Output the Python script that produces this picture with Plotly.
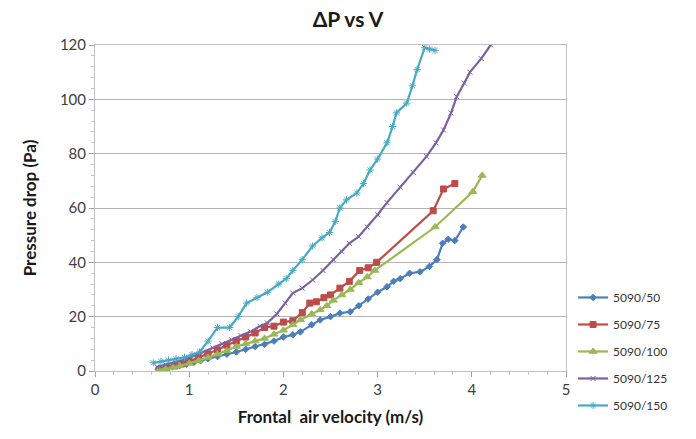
import plotly.graph_objects as go

# Frontal air velocity (m/s) and pressure drop (Pa) for each filter configuration
v_5090_50 = [0.68, 0.75, 0.82, 0.90, 0.97, 1.05, 1.12, 1.20, 1.30, 1.40, 1.50, 1.60, 1.70, 1.80,
             1.90, 2.00, 2.10, 2.18, 2.30, 2.39, 2.50, 2.60, 2.71, 2.80, 2.90, 3.00, 3.10, 3.17,
             3.24, 3.34, 3.45, 3.55, 3.63, 3.69, 3.75, 3.82, 3.91]
p_5090_50 = [0.5, 1.0, 1.5, 2.0, 2.5, 3.2, 3.8, 4.5, 5.3, 6.2, 7.0, 8.0, 9.0, 9.8,
             11.0, 12.5, 13.3, 14.4, 17.0, 18.8, 20.0, 21.3, 21.8, 24.0, 26.5, 29.0, 31.0, 33.0,
             34.0, 36.0, 36.5, 38.5, 41.0, 47.0, 48.5, 48.0, 53.0]

v_5090_75 = [0.68, 0.76, 0.85, 0.93, 1.00, 1.10, 1.20, 1.30, 1.40, 1.50, 1.60, 1.70, 1.80, 1.90,
             2.00, 2.10, 2.20, 2.28, 2.35, 2.43, 2.50, 2.60, 2.70, 2.81, 2.90, 2.99, 3.59, 3.70, 3.82]
p_5090_75 = [0.5, 1.2, 2.0, 2.8, 3.5, 5.0, 6.3, 7.8, 9.5, 11.0, 12.5, 14.0, 16.0, 16.5,
             18.0, 18.5, 21.5, 25.0, 25.5, 27.0, 28.0, 30.5, 33.0, 37.0, 38.0, 40.0, 59.0, 67.0, 69.0]

v_5090_100 = [0.68, 0.75, 0.83, 0.90, 1.00, 1.10, 1.20, 1.30, 1.40, 1.50, 1.60, 1.70, 1.80, 1.90,
              2.00, 2.10, 2.18, 2.30, 2.39, 2.46, 2.53, 2.62, 2.71, 2.80, 2.89, 2.97, 3.61, 4.01, 4.11]
p_5090_100 = [0.3, 0.8, 1.3, 1.9, 2.8, 3.8, 5.0, 6.2, 7.5, 9.0, 10.0, 11.0, 12.0, 13.5,
              15.0, 17.0, 18.8, 21.0, 22.5, 24.0, 26.0, 28.0, 30.0, 32.5, 34.6, 37.0, 53.0, 66.0, 72.0]

v_5090_125 = [0.66, 0.75, 0.85, 0.95, 1.05, 1.15, 1.25, 1.35, 1.45, 1.55, 1.65, 1.75, 1.83, 1.93,
              2.02, 2.10, 2.20, 2.31, 2.42, 2.53, 2.62, 2.70, 2.80, 2.89, 3.00, 3.10, 3.24, 3.38,
              3.52, 3.62, 3.70, 3.78, 3.84, 3.92, 3.98, 4.10, 4.20]
p_5090_125 = [1.5, 2.3, 3.2, 4.2, 5.5, 7.0, 8.5, 10.0, 11.5, 13.0, 14.5, 16.5, 17.7, 21.0,
              25.0, 28.7, 30.5, 33.5, 37.0, 41.0, 44.0, 47.0, 49.5, 53.0, 57.5, 62.0, 67.7, 73.0,
              79.0, 84.0, 88.7, 95.0, 101.0, 106.0, 110.0, 115.0, 120.0]

v_5090_150 = [0.62, 0.70, 0.78, 0.86, 0.95, 1.03, 1.11, 1.20, 1.30, 1.43, 1.52, 1.61, 1.72, 1.83,
              1.95, 2.03, 2.10, 2.20, 2.31, 2.41, 2.49, 2.55, 2.60, 2.67, 2.78, 2.85, 2.92, 3.00,
              3.10, 3.16, 3.20, 3.31, 3.37, 3.42, 3.50, 3.55, 3.61]
p_5090_150 = [3.0, 3.5, 4.0, 4.5, 5.0, 6.0, 7.0, 11.0, 16.0, 16.0, 20.0, 25.0, 27.0, 29.0,
              32.0, 34.0, 37.0, 41.0, 46.0, 49.0, 51.0, 55.0, 60.0, 63.0, 65.5, 69.0, 74.0, 78.0,
              84.0, 90.0, 95.0, 98.6, 105.0, 111.0, 119.0, 118.5, 118.0]

series = [
    ("5090/50", v_5090_50, p_5090_50, "#4A7EBB", "diamond", 5),
    ("5090/75", v_5090_75, p_5090_75, "#BE4B48", "square", 6),
    ("5090/100", v_5090_100, p_5090_100, "#98B954", "triangle-up", 7),
    ("5090/125", v_5090_125, p_5090_125, "#7D60A0", "x-thin-open", 5),
    ("5090/150", v_5090_150, p_5090_150, "#46AAC5", "asterisk-open", 6),
]

fig = go.Figure()
for name, xs, ys, color, symbol, size in series:
    fig.add_trace(go.Scatter(
        x=xs, y=ys, name=name, legendgroup=name, mode="lines+markers",
        line=dict(color=color, width=2.2),
        marker=dict(symbol=symbol, size=size, color=color,
                    line=dict(color=color, width=1)),
    ))

font_family = "Lato, 'Open Sans', sans-serif"
axis_common = dict(
    showline=True, linecolor="#BFBFBF", linewidth=1, mirror=True,
    ticks="outside", ticklen=5, tickcolor="#A0A0A0",
    tickfont=dict(size=15, color="#404040", family=font_family),
    zeroline=False,
)

fig.update_layout(
    width=696, height=439,
    margin=dict(l=95, r=130, t=45, b=68),
    paper_bgcolor="white", plot_bgcolor="white",
    title=dict(text="<b>ΔP vs V</b>", x=0.5, xanchor="center", y=0.955, yanchor="middle",
               font=dict(size=21, color="#1a1a1a", family=font_family)),
    font=dict(family=font_family),
    legend=dict(x=1.015, y=0.27, xanchor="left", yanchor="top",
                font=dict(size=12, color="#333333", family=font_family),
                itemwidth=30, tracegroupgap=8, bgcolor="rgba(0,0,0,0)"),
    xaxis=dict(range=[0, 5], dtick=1, showgrid=False,
               minor=dict(dtick=0.2, ticks="outside", ticklen=3, tickcolor="#C8C8C8"),
               title=dict(text="<b>Frontal  air velocity (m/s)</b>", standoff=14,
                          font=dict(size=17, color="#1a1a1a", family=font_family)),
               **axis_common),
    yaxis=dict(range=[0, 120], dtick=20, showgrid=True, gridcolor="#B4B4B4", gridwidth=1,
               minor=dict(dtick=4, ticks="outside", ticklen=3, tickcolor="#C8C8C8"),
               title=dict(text="<b>Pressure drop (Pa)</b>", standoff=18,
                          font=dict(size=17, color="#1a1a1a", family=font_family)),
               **axis_common),
)

fig.write_html("out.html")
